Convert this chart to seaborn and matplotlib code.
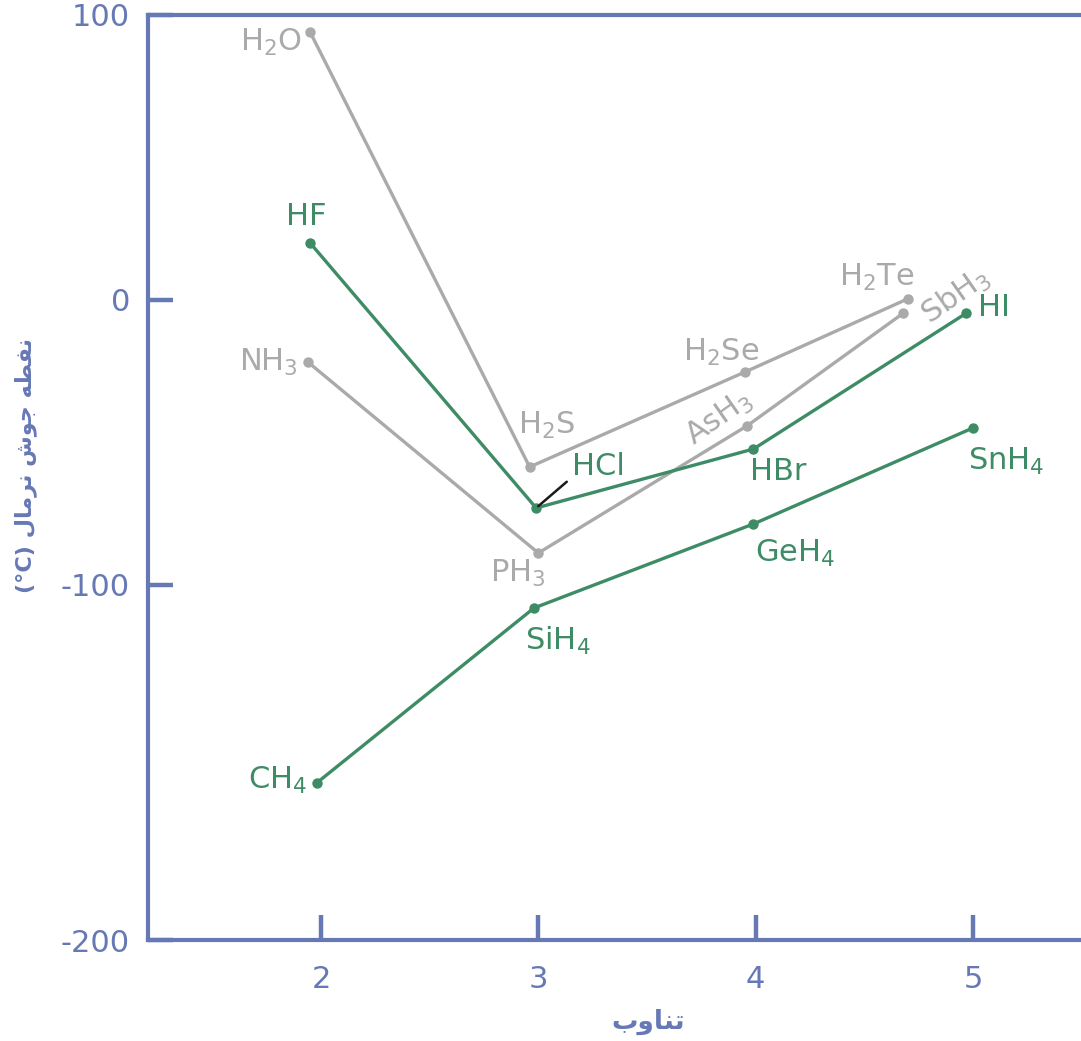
import matplotlib
matplotlib.use("Agg")
import matplotlib.pyplot as plt
import seaborn as sns

# ─── Data (period, normal boiling point °C) ─────────────────────
g14_names = ["CH$_4$", "SiH$_4$", "GeH$_4$", "SnH$_4$"]
g14_x = [1.98, 2.98, 3.99, 5.00]
g14_y = [-169.5, -108.1, -78.6, -44.9]

g15_names = ["NH$_3$", "PH$_3$", "AsH$_3$", "SbH$_3$"]
g15_x = [1.94, 3.00, 3.96, 4.68]
g15_y = [-21.8, -88.8, -44.2, -4.6]

g16_names = ["H$_2$O", "H$_2$S", "H$_2$Se", "H$_2$Te"]
g16_x = [1.95, 2.96, 3.95, 4.70]
g16_y = [94.0, -58.6, -25.3, 0.4]

g17_names = ["HF", "HCl", "HBr", "HI"]
g17_x = [1.95, 2.99, 3.99, 4.97]
g17_y = [20.0, -73.0, -52.3, -4.6]

y_ticks = [100, 0, -100, -224.6]
y_tick_labels = ["100", "0", "-100", "-200"]
x_ticks = [2, 3, 4, 5]

# ─── Style ──────────────────────────────────────────────────────
sns.set_theme(style="white")
plt.rcParams["font.family"] = ["DejaVu Sans"]
plt.rcParams["mathtext.fontset"] = "dejavusans"

BLUE = "#6679B5"
GRAY = "#AAAAAA"
GREEN = "#3E8C66"
FS = 22

fig = plt.figure(figsize=(10.81, 10.41), dpi=100)
ax = fig.add_axes([148 / 1081, 101 / 1041, 933 / 1081, 925 / 1041])

series = [
    (g16_x, g16_y, GRAY),
    (g15_x, g15_y, GRAY),
    (g17_x, g17_y, GREEN),
    (g14_x, g14_y, GREEN),
]
for xs, ys, col in series:
    sns.lineplot(x=xs, y=ys, ax=ax, color=col, linewidth=2.4, marker="o",
                 markersize=7.5, markeredgewidth=0, sort=False, zorder=3)

# label offsets in pixels: (dx, dy, ha, rotation)
label_layout = {
    "H$_2$O": (-8, -10, "right", 0),
    "H$_2$S": (17, 42, "center", 0),
    "H$_2$Se": (-24, 20, "center", 0),
    "H$_2$Te": (-31, 21, "center", 0),
    "NH$_3$": (-10, 0, "right", 0),
    "PH$_3$": (7, -20, "right", 0),
    "AsH$_3$": (-28, 8, "center", 35),
    "SbH$_3$": (52, 17, "center", 35),
    "HF": (-4, 26, "center", 0),
    "HBr": (25, -22, "center", 0),
    "HI": (12, 6, "left", 0),
    "CH$_4$": (-10, 3, "right", 0),
    "SiH$_4$": (24, -33, "center", 0),
    "GeH$_4$": (42, -30, "center", 0),
    "SnH$_4$": (33, -34, "center", 0),
}

for names, xs, ys, col in [(g16_names, g16_x, g16_y, GRAY),
                           (g15_names, g15_x, g15_y, GRAY),
                           (g17_names, g17_x, g17_y, GREEN),
                           (g14_names, g14_x, g14_y, GREEN)]:
    for n, x, y in zip(names, xs, ys):
        if n == "HCl":
            ax.annotate(n, xy=(x, y), xytext=(36, 41), textcoords="offset pixels",
                        ha="left", va="center", fontsize=FS, color=col,
                        arrowprops=dict(arrowstyle="-", color="#1a1a1a", lw=1.8,
                                        shrinkA=2, shrinkB=2, relpos=(0, 0.15)),
                        zorder=4)
            continue
        dx, dy, ha, rot = label_layout[n]
        ax.annotate(n, xy=(x, y), xytext=(dx, dy), textcoords="offset pixels",
                    ha=ha, va="center", fontsize=FS, color=col,
                    rotation=rot, rotation_mode="anchor", zorder=4)

# ─── Axes ───────────────────────────────────────────────────────
ax.set_xlim(1.204, 5.497)
ax.set_ylim(-224.6, 100)
ax.set_xticks(x_ticks)
ax.set_xticklabels([str(v) for v in x_ticks])
ax.set_yticks(y_ticks)
ax.set_yticklabels(y_tick_labels)

for side in ["left", "top", "bottom"]:
    ax.spines[side].set_color(BLUE)
    ax.spines[side].set_linewidth(3)
ax.spines["right"].set_visible(False)

ax.tick_params(axis="both", direction="in", length=18, width=3.2, color=BLUE,
               labelcolor=BLUE, labelsize=FS, left=True, bottom=True)
ax.tick_params(axis="x", pad=18)
ax.tick_params(axis="y", pad=13)
ax.grid(False)

# Persian axis titles (shaped presentation forms, visual order)
xlabel = "\uFE8F\uFEED\uFE8E\uFEE8\uFE97"  # تناوب
ylabel = ("(°C) " + "\uFEDD\uFE8E\uFEE3\uFEAE\uFEE7" + " "
          + "\uFEB5\uFEEE\uFE9F" + " " + "\uFEEA\uFEC4\uFED4\uFEE7")  # نقطه جوش نرمال (°C)
fig.text(648 / 1081, 1 - 1022 / 1041, xlabel, ha="center", va="center",
         fontsize=19, fontweight="bold", color=BLUE)
fig.text(26 / 1081, 1 - 465 / 1041, ylabel, ha="center", va="center",
         rotation=90, fontsize=16, fontweight="bold", color=BLUE)

plt.savefig("out.png", dpi=100)
plt.close()
